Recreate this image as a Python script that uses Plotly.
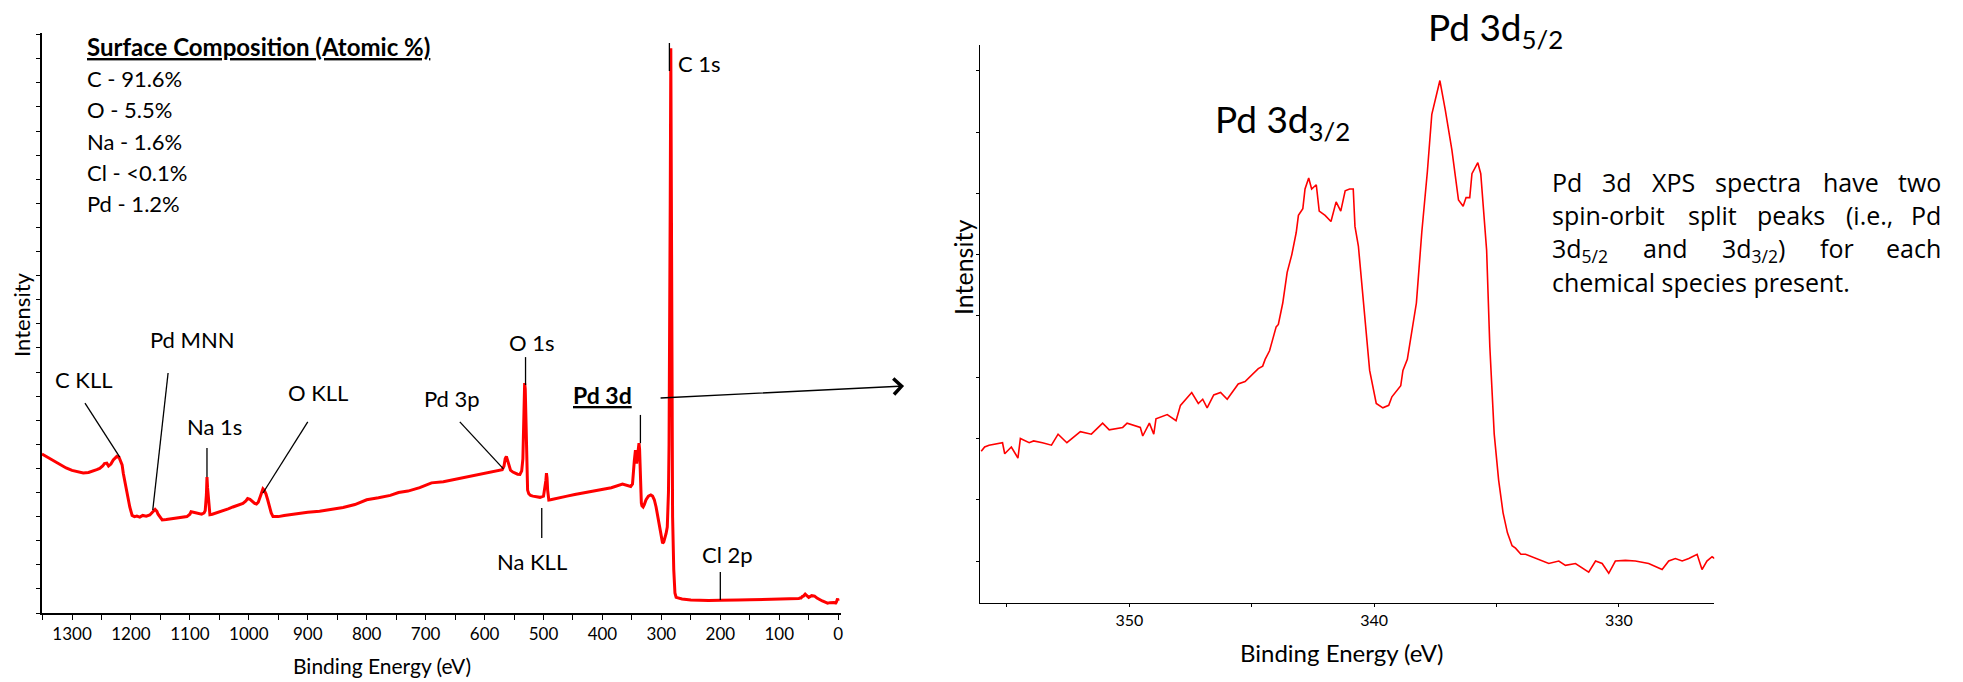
import re
import plotly.graph_objects as go

W, H = 1963, 682

# ---------------- data: survey spectrum (binding energy eV, intensity a.u.) -------------
survey_be = [1351, 1340, 1330, 1320, 1310, 1300, 1290, 1281, 1272, 1265, 1258, 1253, 1248, 1245,
             1241, 1238, 1234, 1230, 1226, 1224, 1220, 1218, 1215, 1213, 1210, 1207, 1204, 1202,
             1198, 1194, 1190, 1185, 1180, 1174, 1168, 1164, 1162, 1159, 1156, 1154, 1150, 1147,
             1140, 1135, 1128, 1120, 1112, 1105, 1100, 1098, 1094, 1090, 1085, 1080, 1076, 1074,
             1072, 1071, 1070, 1068, 1066, 1062, 1055, 1045, 1035, 1027, 1018, 1010, 1005, 1002,
             998, 994, 990, 987, 984, 981, 978, 976, 974, 971, 968, 965, 962, 959, 950, 940, 930,
             914, 900, 880, 858, 840, 820, 800, 780, 760, 746, 730, 710, 690, 670, 650, 633, 615,
             600, 586, 575, 570, 567, 565, 563, 561, 559, 556, 552, 548, 544, 540, 537, 535, 534,
             533, 532, 531, 530, 529, 528, 527, 525, 522, 518, 512, 506, 500, 498, 496, 495, 494,
             493, 491, 488, 480, 470, 460, 447, 434, 420, 400, 385, 366, 358, 352, 349, 347, 346,
             344, 343, 342, 341, 340, 338, 337, 336, 335, 334, 333, 331, 329, 326, 322, 318, 315,
             312, 309, 306, 303, 300, 298, 296, 294, 292, 290, 289, 288, 287, 286, 285, 284, 283,
             282, 281, 279, 277, 275, 265, 250, 235, 220, 200, 185, 170, 150, 130, 115, 100, 85,
             75, 71, 67, 65, 63, 61, 59, 56, 53, 50, 45, 40, 36, 32, 27, 22, 18, 14, 10, 7, 5, 4,
             3, 2, 1, 0]
survey_int = [6.60, 6.45, 6.30, 6.15, 6.02, 5.92, 5.85, 5.81, 5.83, 5.88, 5.95, 6.00, 6.10, 6.20,
              6.22, 6.10, 6.18, 6.35, 6.45, 6.50, 6.45, 6.35, 6.15, 5.80, 5.40, 4.98, 4.60, 4.40,
              4.05, 4.00, 4.02, 3.98, 4.05, 4.02, 4.07, 4.15, 4.22, 4.30, 4.22, 4.10, 3.95, 3.86,
              3.88, 3.90, 3.92, 3.95, 3.98, 4.00, 4.10, 4.20, 4.18, 4.15, 4.12, 4.10, 4.15, 4.25,
              4.90, 5.64, 5.20, 4.40, 4.08, 4.10, 4.15, 4.25, 4.32, 4.40, 4.48, 4.55, 4.65, 4.75,
              4.72, 4.62, 4.55, 4.52, 4.60, 4.80, 5.05, 5.15, 5.10, 4.95, 4.70, 4.40, 4.15, 4.00,
              4.00, 4.05, 4.08, 4.15, 4.18, 4.22, 4.30, 4.38, 4.50, 4.70, 4.78, 4.88, 5.00, 5.06,
              5.20, 5.40, 5.45, 5.55, 5.64, 5.70, 5.78, 5.85, 5.90, 5.95, 6.10, 6.40, 6.50, 6.35,
              6.10, 5.93, 5.85, 5.80, 5.76, 5.75, 5.90, 6.40, 7.50, 8.80, 9.54, 9.30, 8.00, 6.50,
              5.60, 5.10, 4.95, 4.88, 4.85, 4.82, 4.80, 4.85, 5.10, 5.50, 5.80, 5.60, 5.10, 4.69,
              4.70, 4.75, 4.80, 4.85, 4.92, 4.98, 5.05, 5.15, 5.20, 5.35, 5.30, 5.25, 5.35, 5.80,
              6.30, 6.76, 6.60, 6.20, 6.40, 6.60, 7.05, 6.80, 6.00, 5.00, 4.56, 4.45, 4.40, 4.50,
              4.70, 4.85, 4.90, 4.85, 4.70, 4.40, 4.00, 3.55, 3.20, 2.90, 2.95, 3.10, 3.30, 3.57,
              4.20, 5.00, 7.00, 10.50, 17.00, 23.44, 18.00, 9.00, 4.00, 1.80, 0.83, 0.65, 0.58,
              0.54, 0.52, 0.52, 0.53, 0.55, 0.54, 0.55, 0.56, 0.55, 0.56, 0.57, 0.57, 0.58, 0.60,
              0.62, 0.62, 0.68, 0.70, 0.78, 0.70, 0.65, 0.72, 0.70, 0.62, 0.55, 0.50, 0.45, 0.41,
              0.43, 0.45, 0.44, 0.42, 0.42, 0.46, 0.55, 0.60, 0.50, 0.25, 0.10, 0.00]

# ---------------- data: Pd 3d high-resolution spectrum ----------------
pd_be = [356.05, 355.91, 355.73, 355.45, 355.18, 355.09, 354.82, 354.55, 354.45, 354.09, 353.91,
         353.55, 353.18, 352.91, 352.55, 352.00, 351.55, 351.09, 350.82, 350.27, 350.09, 349.55,
         349.45, 349.18, 349.00, 348.91, 348.45, 348.09, 347.91, 347.45, 347.18, 347.00, 346.82,
         346.55, 346.27, 346.00, 345.55, 345.27, 345.00, 344.73, 344.55, 344.45, 344.27, 344.00,
         343.91, 343.73, 343.55, 343.36, 343.18, 343.09, 342.91, 342.82, 342.67, 342.55, 342.36,
         342.24, 342.00, 341.76, 341.55, 341.36, 341.18, 341.00, 340.85, 340.78, 340.64, 340.42,
         340.18, 339.91, 339.64, 339.40, 339.27, 338.91, 338.82, 338.64, 338.45, 338.27, 338.05,
         337.82, 337.64, 337.45, 337.31, 337.09, 336.82, 336.55, 336.36, 336.24, 336.09, 336.00,
         335.76, 335.64, 335.55, 335.40, 335.27, 335.09, 334.91, 334.73, 334.55, 334.36, 334.22,
         334.00, 333.81, 333.40, 332.86, 332.45, 332.18, 331.77, 331.50, 331.23, 330.95, 330.68,
         330.41, 330.14, 329.73, 329.32, 328.78, 328.23, 327.96, 327.69, 327.41, 327.14, 326.80,
         326.60, 326.40, 326.19, 326.08]
pd_int = [1.79, 1.86, 1.89, 1.91, 1.93, 1.75, 1.86, 1.68, 2.00, 1.93, 1.96,
          1.93, 1.89, 2.07, 1.93, 2.11, 2.07, 2.25, 2.14, 2.18, 2.25, 2.18,
          2.04, 2.25, 2.07, 2.32, 2.39, 2.29, 2.54, 2.75, 2.57, 2.64, 2.50,
          2.71, 2.75, 2.64, 2.89, 2.93, 3.04, 3.14, 3.18, 3.29, 3.43, 3.82,
          3.86, 4.21, 4.71, 5.00, 5.36, 5.64, 5.75, 6.07, 6.25, 6.07, 6.14,
          5.71, 5.64, 5.54, 5.86, 5.71, 6.04, 6.07, 6.07, 5.46, 5.14, 4.18,
          3.11, 2.57, 2.50, 2.54, 2.68, 2.86, 3.11, 3.29, 3.79, 4.21, 5.36,
          6.36, 7.29, 7.61, 7.84, 7.36, 6.71, 5.89, 5.79, 5.93, 5.93, 6.32,
          6.50, 6.32, 5.79, 5.07, 3.50, 2.07, 1.32, 0.79, 0.46, 0.25, 0.21,
          0.11, 0.11, 0.04, -0.04, 0.00, -0.07, -0.04, -0.11, -0.18, 0.00, -0.04,
          -0.20, 0.00, 0.01, 0.00, -0.04, -0.14, 0.00, 0.04, -0.00, 0.04, 0.11,
          -0.14, 0.00, 0.07, 0.04]

# ---------------- labels ----------------
peak_labels = ["C KLL", "Pd MNN", "Na 1s", "O KLL", "Pd 3p", "O 1s", "Na KLL", "<b><u>Pd 3d</u></b>", "C 1s", "Cl 2p"]
peak_label_be = [1280, 1095, 1059, 883, 656, 520, 520, 400, 235, 188]
peak_label_int = [9.67, 11.33, 7.72, 9.17, 8.92, 11.24, 2.12, 9.05, 22.82, 2.41]
# leader lines: (from BE, from I, to BE, to I)
leader_be0 = [1278, 1137, 1071, 900, 642, 530.5, 503, 335.6, 286.4, 200]
leader_i0 = [8.71, 9.96, 6.85, 7.93, 7.93, 10.62, 4.36, 8.22, 23.65, 1.70]
leader_be1 = [1219, 1163, 1071, 976, 568, 530.5, 503, 335.6, 286.4, 200]
leader_i1 = [6.47, 4.27, 5.64, 4.98, 5.98, 9.46, 3.11, 7.05, 22.49, 0.54]

composition_title = "<b><u>Surface Composition (Atomic %)</u></b>"
composition = ["C - 91.6%", "O - 5.5%", "Na - 1.6%", "Cl - <0.1%", "Pd - 1.2%"]

paragraph_lines = [
    ["Pd", "3d", "XPS", "spectra", "have", "two"],
    ["spin-orbit", "split", "peaks", "(i.e.,", "Pd"],
    ["3d<sub>5/2</sub>", "and", "3d<sub>3/2</sub>)", "for", "each"],
    ["chemical species present."],
]

survey_ticks = list(range(0, 1301, 100))
pd_ticks = [330, 340, 350]


def px(x):
    return x / W


def py(y):
    return 1 - y / H


# approximate Open Sans advance widths (em) for justified layout
CW = {'a': .556, 'b': .613, 'c': .480, 'd': .613, 'e': .561, 'f': .336, 'g': .546, 'h': .614,
      'i': .258, 'k': .525, 'l': .258, 'm': .932, 'n': .614, 'o': .602, 'p': .613, 'r': .408,
      's': .477, 't': .353, 'v': .500, 'w': .775, 'x': .523, 'y': .500, 'P': .603, 'X': .560,
      'S': .549, '3': .572, '5': .572, '2': .572, '/': .367, '(': .296, ')': .296, '.': .266,
      ',': .250, '-': .322, ' ': .260}


def text_width(s, size):
    total = 0.0
    for m in re.finditer(r"<sub>(.*?)</sub>|([^<]+)", s):
        part = m.group(1) if m.group(1) is not None else m.group(2)
        f = 0.7 if m.group(1) is not None else 1.0
        total += sum(CW.get(ch, 0.55) for ch in part) * size * f
    return total * 1.05


FONT = "Lato"
fig = go.Figure()
fig.add_trace(go.Scatter(x=survey_be, y=survey_int, mode="lines",
                         line=dict(color="#ff0000", width=3), xaxis="x", yaxis="y",
                         hoverinfo="skip"))
fig.add_trace(go.Scatter(x=pd_be, y=pd_int, mode="lines",
                         line=dict(color="#ff0000", width=1.6), xaxis="x2", yaxis="y2",
                         hoverinfo="skip"))

axis_common = dict(showgrid=False, zeroline=False, showline=True, linecolor="black",
                   ticks="outside", tickcolor="black", mirror=False)

fig.update_layout(
    width=W, height=H, margin=dict(l=0, r=0, t=0, b=0),
    paper_bgcolor="white", plot_bgcolor="white", showlegend=False,
    font=dict(family=FONT, color="black"),
    xaxis=dict(domain=[px(42), px(842)], range=[1351, -5], anchor="y",
               tickvals=survey_ticks, ticklen=5, tickwidth=1, linewidth=1.5,
               tickfont=dict(size=17, family=FONT),
               minor=dict(dtick=50, tick0=0, ticks="outside", ticklen=5, tickcolor="black"),
               **axis_common),
    yaxis=dict(domain=[py(613), py(33)], range=[0, 24.07], anchor="x",
               tick0=0, dtick=1, ticklen=4, tickwidth=1, linewidth=1.5,
               showticklabels=False, **axis_common),
    xaxis2=dict(domain=[px(981), px(1716)], range=[356.1, 326.1], anchor="y2",
                tickvals=pd_ticks, ticklen=3, tickwidth=1, linewidth=1.3,
                tickfont=dict(size=16, family=FONT),
                minor=dict(dtick=5, tick0=0, ticks="outside", ticklen=3, tickcolor="black"),
                **axis_common),
    yaxis2=dict(domain=[py(603), py(45)], range=[-0.685, 8.42], anchor="x2",
                tick0=0, dtick=1, ticklen=3, tickwidth=1, linewidth=1.3,
                showticklabels=False, **axis_common),
)

ann = []
# axis titles
ann.append(dict(text="Binding Energy (eV)", x=px(382), y=py(665), xref="paper", yref="paper",
                showarrow=False, font=dict(size=21), xanchor="center", yanchor="middle"))
ann.append(dict(text="Binding Energy (eV)", x=px(1343), y=py(652), xref="paper", yref="paper",
                showarrow=False, font=dict(size=24), xanchor="center", yanchor="middle"))
ann.append(dict(text="Intensity", x=px(21), y=py(314), xref="paper", yref="paper", textangle=-90,
                showarrow=False, font=dict(size=22), xanchor="center", yanchor="middle"))
ann.append(dict(text="Intensity", x=px(964), y=py(268), xref="paper", yref="paper", textangle=-90,
                showarrow=False, font=dict(size=25), xanchor="center", yanchor="middle"))

# survey peak labels
for t, e, v in zip(peak_labels, peak_label_be, peak_label_int):
    ann.append(dict(text=t, x=e, y=v, xref="x", yref="y", showarrow=False,
                    font=dict(size=23 if "Pd 3d" in t else 22), xanchor="center", yanchor="middle"))

# composition box
ann.append(dict(text=composition_title, x=px(85), y=py(47), xref="paper", yref="paper",
                showarrow=False, font=dict(size=24), xanchor="left", yanchor="middle"))
for i, t in enumerate(composition):
    ann.append(dict(text=t, x=px(85), y=py(78 + 31.5 * i), xref="paper", yref="paper",
                    showarrow=False, font=dict(size=22), xanchor="left", yanchor="middle"))

# arrow to zoomed panel
ann.append(dict(text="", x=px(905), y=py(386), xref="paper", yref="paper", showarrow=True,
                ax=660 - 905, ay=398 - 386, axref="pixel", ayref="pixel",
                arrowhead=4, arrowsize=2.2, arrowwidth=1.4, arrowcolor="black", standoff=0))

# Pd 3d doublet labels
ann.append(dict(text="Pd 3d<sub>5/2</sub>", x=px(1427), y=py(2), xref="paper", yref="paper",
                showarrow=False, font=dict(size=37), xanchor="left", yanchor="top"))
ann.append(dict(text="Pd 3d<sub>3/2</sub>", x=px(1214), y=py(94), xref="paper", yref="paper",
                showarrow=False, font=dict(size=37), xanchor="left", yanchor="top"))

# justified paragraph (word by word)
PSIZE = 25
PFONT = dict(size=PSIZE, family="Open Sans")
P_LEFT, P_RIGHT = 1552, 1945
line_tops = [163, 196, 229, 263]
for li, (ytop, words) in enumerate(zip(line_tops, paragraph_lines)):
    last = li == len(paragraph_lines) - 1
    widths = [text_width(w, PSIZE) for w in words]
    if last or len(words) == 1:
        gap = text_width(" ", PSIZE)
    else:
        gap = (P_RIGHT - P_LEFT - sum(widths)) / (len(words) - 1)
    xcur = P_LEFT
    for wi, (w, wd) in enumerate(zip(words, widths)):
        if not last and wi == len(words) - 1:
            ann.append(dict(text=w, x=px(P_RIGHT), y=py(ytop), xref="paper", yref="paper",
                            showarrow=False, font=PFONT, xanchor="right", yanchor="top"))
        else:
            ann.append(dict(text=w, x=px(xcur), y=py(ytop), xref="paper", yref="paper",
                            showarrow=False, font=PFONT, xanchor="left", yanchor="top"))
        xcur += wd + gap

fig.update_layout(annotations=ann)

shapes = []
for a, b, c, d in zip(leader_be0, leader_i0, leader_be1, leader_i1):
    shapes.append(dict(type="line", x0=a, y0=b, x1=c, y1=d, xref="x", yref="y",
                       line=dict(color="black", width=1.3)))
fig.update_layout(shapes=shapes)

fig.write_html("out.html")
